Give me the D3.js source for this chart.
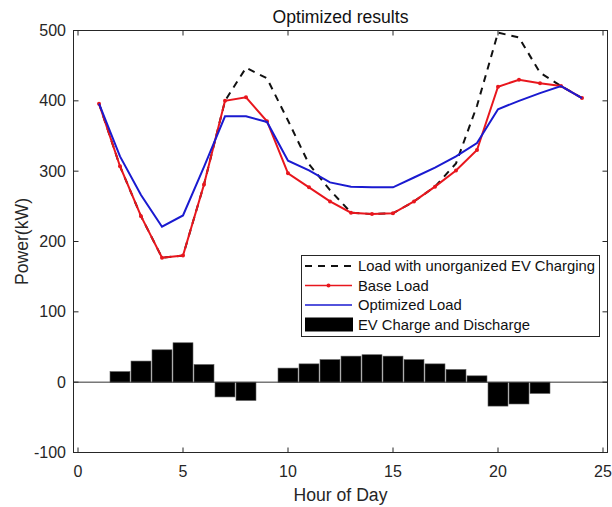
<!DOCTYPE html>
<html>
<head>
<meta charset="utf-8">
<script src="https://cdn.jsdelivr.net/npm/d3@7"></script>
<style>
  html, body { margin: 0; padding: 0; background: #fff; }
  svg { display: block; font-family: "Liberation Sans", Arial, sans-serif; }
</style>
</head>
<body>
<svg id="chart" width="612" height="507"></svg>
<script>
const hours = [1,2,3,4,5,6,7,8,9,10,11,12,13,14,15,16,17,18,19,20,21,22,23,24];
const unorganizedLoad = [396,307,236,177,180,281,400,447,432,372,310,273,241,239,240,257,278,311,393,497,490,440,421,404];
const baseLoad = [396,307,236,177,180,281,400,405,371,297,277,257,241,239,240,257,278,301,330,420,430,425,421,404];
const optimizedLoad = [396,321,266,221,237,306,378,378,370,315,301,284,278,277,277,291,305,321,340,388,400,411,421,404];
const evCharge = [0,15,30,46,56,25,-21,-26,0,20,26,32,37,39,37,32,26,18,9,-34,-31,-16,0,0];
const xTicks = [0,5,10,15,20,25];
const yTicks = [-100,0,100,200,300,400,500];
const seriesNames = ["Load with unorganized EV Charging","Base Load","Optimized Load","EV Charge and Discharge"];
const titleText = "Optimized results";
const xLabel = "Hour of Day";
const yLabel = "Power(kW)";

const svg = d3.select("#chart");
const box = {left: 73.5, right: 607.5, top: 30.5, bottom: 452.5};
const x = d3.scaleLinear().domain([0, 25]).range([78, 603]);
const y = d3.scaleLinear().domain([-100, 500]).range([box.bottom, box.top]);
const axisColor = "#262626";
const red = "#e8161d", blue = "#1a1ad0";

// bars
const barW = 0.95;
svg.append("g").selectAll("rect")
  .data(hours.map((h,i)=>({h, v: evCharge[i]})).filter(d=>d.v!==0))
  .join("rect")
  .attr("x", d => x(d.h - barW/2))
  .attr("width", d => x(d.h + barW/2) - x(d.h - barW/2))
  .attr("y", d => y(Math.max(0, d.v)))
  .attr("height", d => Math.abs(y(d.v) - y(0)))
  .attr("fill", "#000")
  .attr("stroke", "#555")
  .attr("stroke-width", 0.6);

// baseline
svg.append("line")
  .attr("x1", box.left).attr("x2", box.right)
  .attr("y1", y(0)).attr("y2", y(0))
  .attr("stroke", "#333").attr("stroke-width", 1);

const line = d3.line().x((d,i)=>x(hours[i])).y(d=>y(d));

svg.append("path").datum(unorganizedLoad)
  .attr("d", line).attr("fill","none")
  .attr("stroke","#111").attr("stroke-width",2)
  .attr("stroke-dasharray","7,6");

svg.append("path").datum(baseLoad)
  .attr("d", line).attr("fill","none")
  .attr("stroke",red).attr("stroke-width",2);
svg.append("g").selectAll("circle").data(baseLoad).join("circle")
  .attr("cx",(d,i)=>x(hours[i])).attr("cy",d=>y(d)).attr("r",2)
  .attr("fill",red);

svg.append("path").datum(optimizedLoad)
  .attr("d", line).attr("fill","none")
  .attr("stroke",blue).attr("stroke-width",2);

// axes box
svg.append("rect")
  .attr("x", box.left).attr("y", box.top)
  .attr("width", box.right-box.left).attr("height", box.bottom-box.top)
  .attr("fill","none").attr("stroke",axisColor).attr("stroke-width",1);

const tickLen = 5;
const gx = svg.append("g");
xTicks.forEach(t => {
  gx.append("line").attr("x1",x(t)).attr("x2",x(t))
    .attr("y1",box.bottom).attr("y2",box.bottom-tickLen).attr("stroke",axisColor);
  gx.append("line").attr("x1",x(t)).attr("x2",x(t))
    .attr("y1",box.top).attr("y2",box.top+tickLen).attr("stroke",axisColor);
  gx.append("text").attr("x",x(t)).attr("y",477)
    .attr("text-anchor","middle").attr("font-size",16).attr("fill",axisColor).text(t);
});
const gy = svg.append("g");
yTicks.forEach(t => {
  gy.append("line").attr("x1",box.left).attr("x2",box.left+tickLen)
    .attr("y1",y(t)).attr("y2",y(t)).attr("stroke",axisColor);
  gy.append("line").attr("x1",box.right).attr("x2",box.right-tickLen)
    .attr("y1",y(t)).attr("y2",y(t)).attr("stroke",axisColor);
  gy.append("text").attr("x",66).attr("y",y(t)).attr("dy","0.35em")
    .attr("text-anchor","end").attr("font-size",16).attr("fill",axisColor).text(t);
});

svg.append("text").attr("x",(box.left+box.right)/2).attr("y",23)
  .attr("text-anchor","middle").attr("font-size",17.6).attr("fill","#111").text(titleText);
svg.append("text").attr("x",(box.left+box.right)/2).attr("y",501)
  .attr("text-anchor","middle").attr("font-size",17.6).attr("fill",axisColor).text(xLabel);
svg.append("text").attr("transform",`translate(28,${(box.top+box.bottom)/2}) rotate(-90)`)
  .attr("text-anchor","middle").attr("font-size",17.6).attr("fill",axisColor).text(yLabel);

// legend
const lg = svg.append("g");
lg.append("rect").attr("x",301.5).attr("y",255.5).attr("width",298).attr("height",81)
  .attr("fill","#fff").attr("stroke",axisColor).attr("stroke-width",1);
const rowY = [266, 285.5, 305, 324.5];
const sx1 = 305, sx2 = 352, tx = 358;
lg.append("line").attr("x1",sx1).attr("x2",sx2).attr("y1",rowY[0]).attr("y2",rowY[0])
  .attr("stroke","#111").attr("stroke-width",2).attr("stroke-dasharray","7,6");
lg.append("line").attr("x1",sx1).attr("x2",sx2).attr("y1",rowY[1]).attr("y2",rowY[1])
  .attr("stroke",red).attr("stroke-width",1.5);
lg.append("circle").attr("cx",(sx1+sx2)/2).attr("cy",rowY[1]).attr("r",2).attr("fill",red);
lg.append("line").attr("x1",sx1).attr("x2",sx2).attr("y1",rowY[2]).attr("y2",rowY[2])
  .attr("stroke",blue).attr("stroke-width",1.5);
lg.append("rect").attr("x",sx1).attr("y",rowY[3]-7).attr("width",sx2-sx1+1).attr("height",14)
  .attr("fill","#000");
seriesNames.forEach((n,i)=>{
  lg.append("text").attr("x",tx).attr("y",rowY[i]).attr("dy","0.35em")
    .attr("font-size",14.8).attr("fill","#111").text(n);
});
</script>
</body>
</html>
